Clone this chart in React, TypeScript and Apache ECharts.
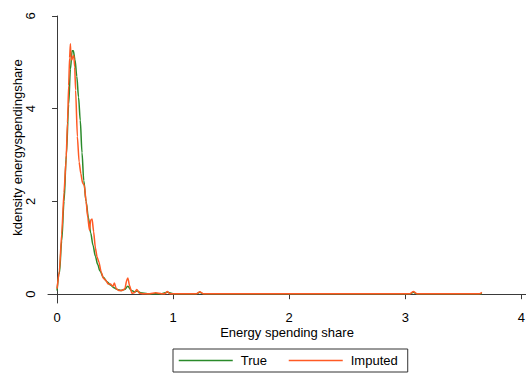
import React, { useEffect, useRef } from "react";
import * as echarts from "echarts";

const trueX = [0, 0.02, 0.04, 0.06, 0.08, 0.1, 0.115, 0.13, 0.14, 0.155, 0.17, 0.185, 0.2, 0.215, 0.23, 0.25, 0.27, 0.29, 0.31, 0.33, 0.35, 0.37, 0.4, 0.43, 0.46, 0.49, 0.52, 0.55, 0.58, 0.61, 0.64, 0.67, 0.69, 0.72, 0.78, 0.9, 0.95, 1.0, 1.2, 1.23, 1.26, 3.04, 3.07, 3.1, 3.66];
const trueY = [0.08, 0.45, 1.15, 2.0, 3.0, 4.1, 4.85, 5.25, 5.25, 5.05, 4.7, 4.25, 3.75, 3.05, 2.45, 2.0, 1.65, 1.32, 1.05, 0.82, 0.64, 0.5, 0.36, 0.27, 0.2, 0.14, 0.1, 0.08, 0.1, 0.17, 0.08, 0.05, 0.07, 0.03, 0.01, 0.01, 0.04, 0.01, 0.01, 0.04, 0.01, 0.01, 0.04, 0.01, 0.01];

const impX = [0, 0.02, 0.04, 0.06, 0.078, 0.09, 0.1, 0.108, 0.115, 0.12, 0.127, 0.135, 0.144, 0.152, 0.16, 0.175, 0.19, 0.205, 0.22, 0.235, 0.25, 0.265, 0.279, 0.29, 0.302, 0.315, 0.33, 0.345, 0.36, 0.38, 0.4, 0.42, 0.44, 0.46, 0.48, 0.494, 0.51, 0.53, 0.56, 0.585, 0.6, 0.61, 0.625, 0.645, 0.665, 0.687, 0.71, 0.74, 0.8, 0.85, 0.9, 0.93, 0.95, 0.97, 1.2, 1.23, 1.26, 3.04, 3.07, 3.1, 3.64, 3.66];
const impY = [0.12, 0.5, 1.3, 2.2, 2.9, 3.7, 4.5, 5.1, 5.4, 5.1, 5.05, 5.12, 5.15, 4.9, 4.4, 3.4, 2.85, 2.6, 2.4, 2.35, 2.0, 1.65, 1.38, 1.6, 1.62, 1.35, 1.0, 0.8, 0.7, 0.48, 0.34, 0.3, 0.22, 0.22, 0.17, 0.24, 0.12, 0.08, 0.08, 0.12, 0.3, 0.35, 0.18, 0.02, 0.03, 0.1, 0.02, 0.01, 0.01, 0.03, 0.01, 0.01, 0.06, 0.01, 0.01, 0.05, 0.01, 0.01, 0.06, 0.01, 0.01, 0.04];

const xTicks = [0, 1, 2, 3, 4];
const yTicks = [0, 2, 4, 6];

const seriesNames = ["True", "Imputed"];
const FONT = "'Liberation Sans', Arial, sans-serif";

export default function App() {
  const ref = useRef<HTMLDivElement>(null);
  useEffect(() => {
    if (!ref.current) return;
    const chart = echarts.init(ref.current, null, { renderer: "svg" });
    const axisLine = { show: true, lineStyle: { color: "#3a3a3a", width: 1 } };
    chart.setOption({
      animation: false,
      backgroundColor: "#ffffff",
      textStyle: { fontFamily: FONT },
      grid: { left: 48, right: 0, top: 16, bottom: 72, containLabel: false, outerBoundsMode: "none" },
      legend: {
        left: 173,
        top: 349,
        orient: "horizontal",
        itemWidth: 54,
        itemHeight: 14,
        itemGap: 21,
        padding: [5, 10, 5, 5],
        borderColor: "#333333",
        borderWidth: 1,
        borderRadius: 0,
        itemStyle: { opacity: 0 },
        lineStyle: { width: 1.5 },
        textStyle: { fontSize: 13, color: "#000", fontFamily: FONT, padding: [0, 0, 0, 3] },
        data: seriesNames,
      },
      xAxis: {
        type: "value",
        min: -0.078,
        max: 4.04,
        name: "Energy spending share",
        nameLocation: "middle",
        nameGap: 23,
        nameMoveOverlap: false,
        nameTextStyle: { fontSize: 13, color: "#000", fontFamily: FONT },
        axisLine,
        axisTick: { show: true, length: 5, customValues: xTicks, lineStyle: { color: "#3a3a3a" } },
        axisLabel: { show: true, customValues: xTicks, margin: 8, fontSize: 13, color: "#000", fontFamily: FONT },
        splitLine: { show: false },
      },
      yAxis: {
        type: "value",
        min: -0.19,
        max: 6,
        name: "kdensity energyspendingshare",
        nameLocation: "middle",
        nameGap: 24,
        nameMoveOverlap: false,
        nameTextStyle: { fontSize: 13, color: "#000", fontFamily: FONT, padding: [0, 0, 0, 24] },
        axisLine,
        axisTick: { show: true, length: 5, customValues: yTicks, lineStyle: { color: "#3a3a3a" } },
        axisLabel: { show: true, customValues: yTicks, rotate: 90, margin: 11, fontSize: 13, color: "#000", fontFamily: FONT },
        splitLine: { show: false },
      },
      series: [
        {
          name: seriesNames[0],
          type: "line",
          data: trueX.map((x, i) => [x, trueY[i]]),
          symbol: "none",
          smooth: 0.3,
          smoothMonotone: "x",
          lineStyle: { color: "#2a8a2a", width: 1.5 },
          itemStyle: { color: "#2a8a2a" },
        },
        {
          name: seriesNames[1],
          type: "line",
          data: impX.map((x, i) => [x, impY[i]]),
          symbol: "none",
          smooth: 0.2,
          smoothMonotone: "x",
          lineStyle: { color: "#ff5a24", width: 1.5 },
          itemStyle: { color: "#ff5a24" },
        },
      ],
    });
    return () => chart.dispose();
  }, []);
  return (
    <div
      ref={ref}
      style={{ position: "fixed", left: 0, top: 0, width: 526, height: 375, background: "#fff" }}
    />
  );
}
